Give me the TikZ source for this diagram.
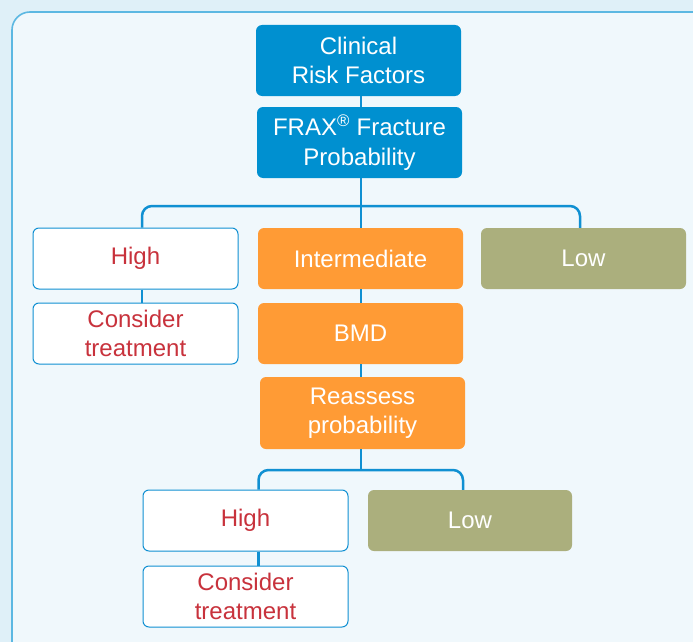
\documentclass[tikz,border=0pt]{standalone}
\usepackage{fontspec}
\setmainfont{Liberation Sans}
\definecolor{outerbg}{HTML}{DFF0F8}
\definecolor{innerbg}{HTML}{F0F8FC}
\definecolor{panelline}{HTML}{5CB8E2}
\definecolor{boxblue}{HTML}{0090D0}
\definecolor{lineblue}{HTML}{1090D2}
\definecolor{boxorange}{HTML}{FF9B35}
\definecolor{boxolive}{HTML}{ABAF7D}
\definecolor{textred}{HTML}{C8323C}
\begin{document}
\begin{tikzpicture}[x=1pt,y=-1pt,
  box/.style={rounded corners=6pt, minimum width=205pt, minimum height=61pt, align=center, inner sep=0pt, font=\fontsize{24}{29.5}\selectfont},
  bluebox/.style={box, fill=boxblue, text=white, minimum height=71pt},
  whitebox/.style={box, fill=white, draw=lineblue, line width=1pt, text=textred},
  orangebox/.style={box, fill=boxorange, text=white},
  olivebox/.style={box, fill=boxolive, text=white},
  conn/.style={draw=lineblue, line width=2.5pt}]
\useasboundingbox (0,0) rectangle (693,642);
\fill[outerbg] (0,0) rectangle (693,642);
\fill[innerbg, rounded corners=18pt] (12,660) |- (710,12) -- (710,660) -- cycle;
\draw[panelline, line width=1.6pt, rounded corners=18pt] (12,660) |- (710,12);

\node[bluebox] (crf) at (358.5,60.5) {Clinical\\Risk Factors};
\node[bluebox] (frax) at (359.5,142.5) {FRAX\textsuperscript{\textregistered} Fracture\\Probability};
\node[whitebox] (high1) at (135.5,258.5) {High};
\node[orangebox] (inter) at (360.5,258.5) {Intermediate};
\node[olivebox] (low1) at (583.5,258.5) {Low};
\node[whitebox] (cons1) at (135.5,333.5) {Consider\\treatment};
\node[orangebox] (bmd) at (360.5,333.5) {BMD};
\node[orangebox, minimum height=72pt] (reass) at (362.5,413) {Reassess\\probability};
\node[whitebox] (high2) at (245.5,520.5) {High};
\node[olivebox, minimum width=204pt] (low2) at (470,520.5) {Low};
\node[whitebox] (cons2) at (245.5,596.5) {Consider\\treatment};

\coordinate (j1) at (361,206);
\coordinate (j2) at (361,470);

\draw[conn, line width=1.5pt] ([xshift=2.5pt]crf.south) -- ([xshift=1.5pt]frax.north);
\draw[conn] ([xshift=1.5pt]frax.south) -- (j1) -- (j1 |- inter.north);
\draw[conn, rounded corners=10pt] ([xshift=6.5pt]high1.north) |- (j1) -| ([xshift=-3.5pt]low1.north);
\draw[conn] ([xshift=6.5pt]high1.south) -- ([xshift=6.5pt]cons1.north);
\draw[conn] (j1 |- inter.south) -- (j1 |- bmd.north);
\draw[conn] (j1 |- bmd.south) -- (j1 |- reass.north);
\draw[conn] (j1 |- reass.south) -- (j2);
\draw[conn, rounded corners=10pt] ([xshift=13pt]high2.north) |- (j2) -| ([xshift=-7pt]low2.north);
\draw[conn] ([xshift=13pt]high2.south) -- ([xshift=13pt]cons2.north);
\end{tikzpicture}
\end{document}
